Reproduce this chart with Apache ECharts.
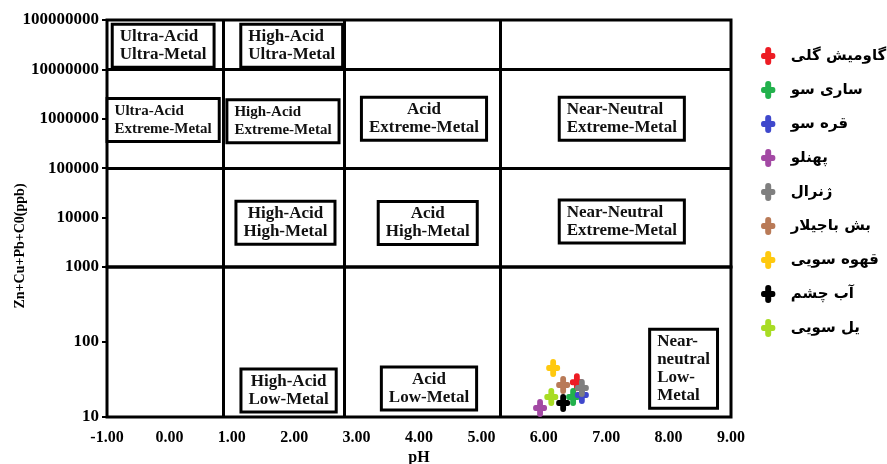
<!DOCTYPE html>
<html>
<head>
<meta charset="utf-8">
<script src="https://cdn.jsdelivr.net/npm/echarts@6.0.0/dist/echarts.min.js"></script>
<style>
  html, body { margin: 0; padding: 0; background: #fff; }
  #chart { width: 887px; height: 464px; }
</style>
</head>
<body>
<div id="chart"></div>
<script>
// sampling sites, in legend order
const siteNames = ['گاومیش گلی', 'ساری سو', 'قره سو', 'پهنلو', 'ژنرال', 'بش باجیلار', 'قهوه سویی', 'آب چشم', 'یل سویی'];
const sitePH = [6.53, 6.47, 6.61, 5.94, 6.61, 6.31, 6.15, 6.31, 6.12];
const siteMetal = [29, 18.5, 19.6, 13.2, 24.4, 26.7, 45, 15.4, 18.5];
const siteColors = ['#ed1c24', '#22b14c', '#3f48cc', '#a349a4', '#7f7f7f', '#b97a57', '#ffc90e', '#000000', '#a8dc24'];

// Ficklin fields (label centre in pH / ppb)
const zoneNames = [
  'Ultra-Acid\nUltra-Metal', 'High-Acid\nUltra-Metal',
  'Ultra-Acid\nExtreme-Metal', 'High-Acid\nExtreme-Metal', 'Acid\nExtreme-Metal', 'Near-Neutral\nExtreme-Metal',
  'High-Acid\nHigh-Metal', 'Acid\nHigh-Metal', 'Near-Neutral\nExtreme-Metal',
  'High-Acid\nLow-Metal', 'Acid\nLow-Metal', 'Near-\nneutral\nLow-\nMetal'
];
const zonePH = [-0.10, 1.96, -0.10, 1.82, 4.08, 7.25, 1.86, 4.14, 7.25, 1.91, 4.16, 8.24];
const zoneMetal = [3.0e7, 3.0e7, 9.5e5, 8.9e5, 1.0e6, 1.0e6, 7.9e3, 7.8e3, 8.3e3, 22.5, 24, 44];

const phRange = [-1, 9];
const metalHigh = [1000, 1e8];
const metalLow = [10, 1000];
const phBounds = [0.86, 2.81, 5.3];
const metalBounds = [1e5, 1e7];

const serif = '"Liberation Serif", "Times New Roman", serif';
const plus = 'path://M3.5,2.5 Q3.5,0 6,0 Q8.5,0 8.5,2.5 L8.5,5 L10,5 Q12,5 12,7.5 Q12,10 10,10 L8.5,10 L8.5,12.5 Q8.5,15 6,15 Q3.5,15 3.5,12.5 L3.5,10 L2,10 Q0,10 0,7.5 Q0,5 2,5 L3.5,5 Z';
const leftZones = [0, 1, 2, 3, 5, 8, 11];
const smallZones = [2, 3];

function zoneItem(i) {
  let key = leftZones.indexOf(i) >= 0 ? 'l' : 'c';
  if (smallZones.indexOf(i) >= 0) key += 's';
  return {
    value: [zonePH[i], zoneMetal[i]],
    name: zoneNames[i],
    label: {
      formatter: zoneNames[i].split('\n').map(t => '{' + key + '|' + t + '}').join('\n')
    }
  };
}

const richBase = { fontFamily: serif, fontWeight: 'bold', fontSize: 17, lineHeight: 18, color: '#111' };
const zoneLabel = {
  show: true,
  position: 'inside',
  backgroundColor: '#fff',
  borderColor: '#000',
  borderWidth: 3,
  padding: [2, 6],
  rich: {
    l: Object.assign({}, richBase, { align: 'left' }),
    c: Object.assign({}, richBase, { align: 'center' }),
    ls: Object.assign({}, richBase, { align: 'left', fontSize: 15 }),
    cs: Object.assign({}, richBase, { align: 'center', fontSize: 15 })
  }
};

const boundStyle = { color: '#000', width: 3, type: 'solid' };

function zoneSeries(gridIdx, withMetalLines) {
  const idx = [];
  zoneMetal.forEach((m, i) => {
    if ((gridIdx === 0) === (m >= 1000)) idx.push(i);
  });
  let lines = phBounds.map(v => ({ xAxis: v }));
  if (withMetalLines) lines = lines.concat(metalBounds.map(v => ({ yAxis: v })));
  return {
    type: 'scatter',
    xAxisIndex: gridIdx,
    yAxisIndex: gridIdx,
    symbolSize: 1,
    silent: true,
    z: 3,
    itemStyle: { color: 'rgba(0,0,0,0)', opacity: 1 },
    label: zoneLabel,
    data: idx.map(zoneItem),
    markLine: {
      silent: true,
      symbol: ['none', 'none'],
      label: { show: false },
      lineStyle: boundStyle,
      data: lines
    }
  };
}

const siteSeries = siteNames.map((name, i) => ({
  name: name,
  type: 'scatter',
  xAxisIndex: 1,
  yAxisIndex: 1,
  symbol: plus,
  symbolSize: [14, 18],
  z: 5,
  itemStyle: { color: siteColors[i], opacity: 1 },
  data: [[sitePH[i], siteMetal[i]]]
}));

const gridStyle = { show: true, borderColor: '#000', borderWidth: 3, backgroundColor: 'transparent', outerBoundsMode: 'none' };
const yLabel = { color: '#000', fontFamily: serif, fontWeight: 'bold', fontSize: 17, margin: 8 };
const yTick = { show: true, length: 5, lineStyle: { color: '#000', width: 2 } };

let option = {
  animation: false,
  backgroundColor: '#fff',
  grid: [
    Object.assign({ left: 107, top: 20, width: 624, height: 247 }, gridStyle),
    Object.assign({ left: 107, top: 267, width: 624, height: 150 }, gridStyle)
  ],
  xAxis: [
    { gridIndex: 0, type: 'value', min: phRange[0], max: phRange[1], show: false },
    {
      gridIndex: 1,
      type: 'value',
      min: phRange[0],
      max: phRange[1],
      interval: 1,
      axisLine: { show: false, onZero: false },
      axisTick: { show: false },
      splitLine: { show: false },
      axisLabel: {
        color: '#000', fontFamily: serif, fontWeight: 'bold', fontSize: 16, margin: 13,
        formatter: v => v.toFixed(2)
      },
      name: 'pH',
      nameLocation: 'middle',
      nameGap: 33,
      nameTextStyle: { color: '#000', fontFamily: serif, fontWeight: 'bold', fontSize: 16 }
    }
  ],
  yAxis: [
    {
      gridIndex: 0, type: 'log', logBase: 10, min: metalHigh[0], max: metalHigh[1],
      axisLine: { show: false, onZero: false }, axisTick: yTick, splitLine: { show: false }, minorTick: { show: false },
      axisLabel: Object.assign({ formatter: v => (Math.round(v) === 1000 ? '' : String(Math.round(v))) }, yLabel)
    },
    {
      gridIndex: 1, type: 'log', logBase: 10, min: metalLow[0], max: metalLow[1],
      axisLine: { show: false, onZero: false }, axisTick: yTick, splitLine: { show: false }, minorTick: { show: false },
      axisLabel: Object.assign({ formatter: v => String(Math.round(v)) }, yLabel)
    }
  ],
  legend: {
    data: siteNames,
    orient: 'vertical',
    left: 756,
    top: 42,
    itemWidth: 15,
    itemHeight: 18,
    itemGap: 16,
    selectedMode: false,
    textStyle: { color: '#000', fontFamily: '"DejaVu Sans", sans-serif', fontWeight: 'bold', fontSize: 15, padding: [0, 0, 0, 10] }
  },
  graphic: [{
    type: 'text',
    x: 20,
    y: 246,
    rotation: Math.PI / 2,
    style: {
      text: 'Zn+Cu+Pb+C0(ppb)',
      font: 'bold 14px "Liberation Serif", serif',
      fill: '#000',
      align: 'center',
      verticalAlign: 'middle'
    }
  }],
  series: [zoneSeries(0, true), zoneSeries(1, false)].concat(siteSeries)
};

var myChart = echarts.init(document.getElementById('chart'));
myChart.setOption(option);
</script>
</body>
</html>
